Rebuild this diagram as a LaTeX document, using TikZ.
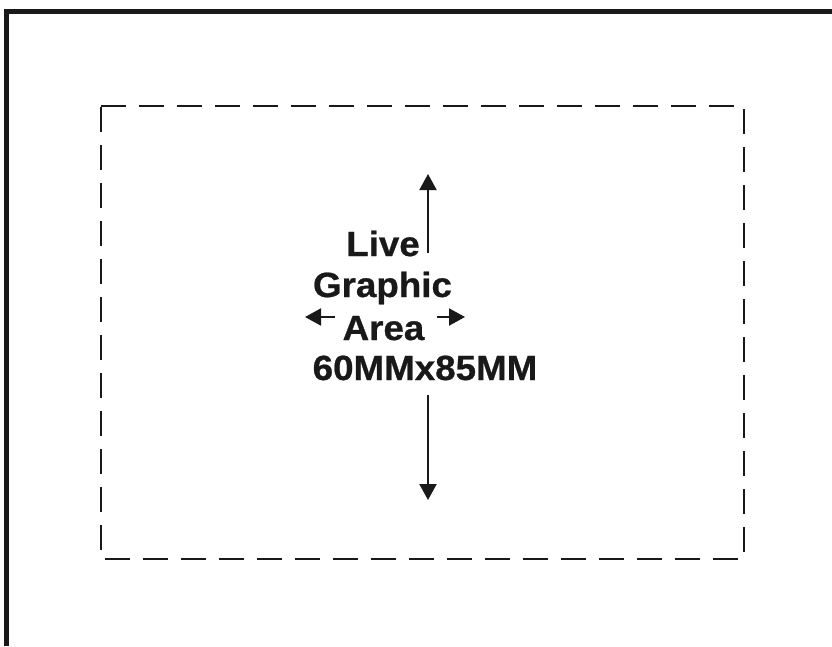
\documentclass[tikz,border=0pt]{standalone}
\usepackage{fontspec}
\setmainfont{Liberation Sans}[FakeStretch=1.05,BoldFeatures={FakeBold=0.7}]
\usetikzlibrary{arrows.meta}
\begin{document}
\begin{tikzpicture}[x=1pt,y=-1pt,
  frame/.style={line width=4.5pt,line join=miter,draw=black!90},
  livearea/.style={line width=2pt,draw=black!90,dash pattern=on 25pt off 13pt},
  label/.style={font=\fontsize{35}{42}\selectfont\bfseries,inner sep=0pt,anchor=base,text=black!90},
  arr/.style={line width=2pt,draw=black!90,-{Triangle[length=16pt,width=17pt]}}]
\useasboundingbox (0,0) rectangle (832,646);
% outer frame (left and top edges)
\coordinate (fb) at (6.5,646);
\coordinate (fc) at (6.5,11.5);
\coordinate (fr) at (832,11.5);
\draw[frame] (fb) -- (fc) -- (fr);
% dashed live graphic area
\coordinate (tl) at (101,106);
\coordinate (tr) at (744,106);
\coordinate (br) at (744,559);
\coordinate (bl) at (101,559);
\draw[livearea] (tl) -- (tr) -- (br) -- (bl) -- cycle;
% labels
\node[label] (live) at (383,256) {Live};
\node[label] (graphic) at (382.5,297) {Graphic};
\node[label] (area) at (383.5,340) {Area};
\node[label] (size) at (425,380) {60MMx85MM};
% arrows
\coordinate (ub) at (428,253);
\coordinate (ut) at (428,174);
\coordinate (db) at (428,395);
\coordinate (dt) at (428,500);
\coordinate (ls) at (335,317);
\coordinate (lt) at (305,317);
\coordinate (rs) at (437,317);
\coordinate (rt) at (465,317);
\draw[arr] (ub) -- (ut);
\draw[arr] (db) -- (dt);
\draw[arr] (ls) -- (lt);
\draw[arr] (rs) -- (rt);
\end{tikzpicture}
\end{document}
